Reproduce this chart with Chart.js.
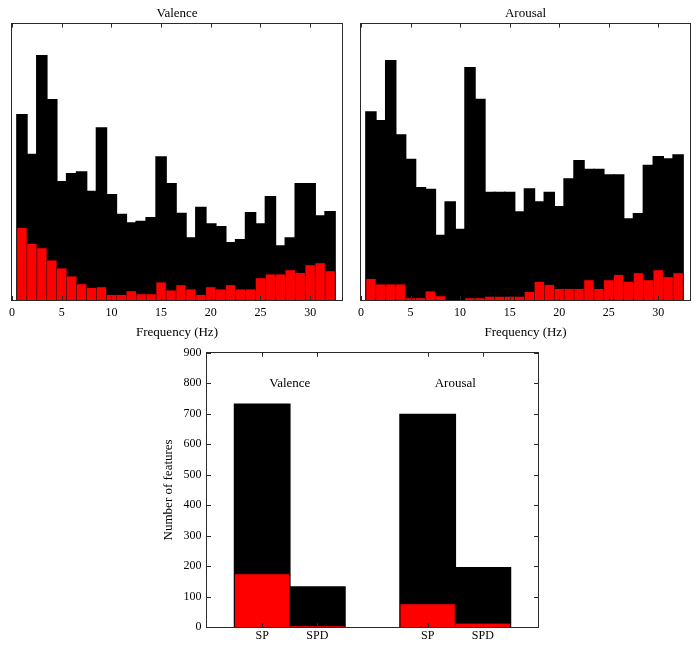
<!DOCTYPE html>
<html><head><meta charset="utf-8">
<script src="https://cdn.jsdelivr.net/npm/chart.js@4.4.0/dist/chart.umd.min.js"></script>
<style>
html,body{margin:0;padding:0;background:#fff;}
#wrap{position:relative;width:699px;height:650px;overflow:hidden;}
.c{position:absolute;}
</style></head><body>
<div id="wrap">
<div class="c" style="left:0;top:0;width:350px;height:340px"><canvas id="cv"></canvas></div>
<div class="c" style="left:350px;top:0;width:349px;height:340px"><canvas id="ca"></canvas></div>
<div class="c" style="left:150px;top:340px;width:400px;height:310px"><canvas id="cb"></canvas></div>
</div>
<script>
// ---- data ----
const freqs = [1,2,3,4,5,6,7,8,9,10,11,12,13,14,15,16,17,18,19,20,21,22,23,24,25,26,27,28,29,30,31,32];
const valenceAll = [39.7,31.2,52.3,42.9,25.4,27.1,27.5,23.3,36.9,22.6,18.4,16.6,16.9,17.7,30.7,25.0,18.6,13.4,19.9,16.4,15.8,12.4,13.0,18.8,16.4,22.2,11.7,13.4,25.0,25.0,18.1,19.0];
const valenceSelected = [15.4,12.0,11.1,8.5,6.8,5.1,3.4,2.6,2.8,1.1,1.1,1.9,1.3,1.3,3.8,2.1,3.2,2.3,1.1,2.8,2.3,3.2,2.3,2.3,4.7,5.5,5.5,6.4,5.8,7.5,7.9,6.2];
const arousalAll = [32.1,30.6,40.8,28.2,24.0,19.2,18.9,11.1,16.8,12.1,39.6,34.2,18.4,18.4,18.4,15.1,19.0,16.8,18.4,16.0,20.7,23.8,22.3,22.3,21.4,21.4,13.9,14.8,23.0,24.5,24.1,24.8];
const arousalSelected = [3.6,2.7,2.7,2.7,0.34,0.34,1.5,0.7,0,0,0.34,0.34,0.6,0.6,0.6,0.6,1.4,3.1,2.6,1.9,1.9,1.9,3.4,1.9,3.4,4.3,3.1,4.6,3.4,5.1,3.9,4.6];
const freqTicks = [0,5,10,15,20,25,30];

const featureTypes = ['SP','SPD','SP','SPD'];
const featurePositions = [1,2,4,5];
const totalFeatures = [733,134,700,197];
const selectedFeatures = [175,2,76,12];
const groupLabels = ['Valence','Arousal'];
const groupCenters = [1.5,4.5];
const groupLabelValue = 800;
const countTicks = [0,100,200,300,400,500,600,700,800,900];

// ---- styling ----
const F = 'Liberation Serif';
const RED = '#ff0000', BLACK = '#000000';
Chart.defaults.font.family = F;
Chart.defaults.color = '#000';

const framePlugin = {
  id: 'frame',
  afterDatasetsDraw(chart, args, opts) {
    const ctx = chart.ctx;
    const {left, right, top, bottom} = chart.chartArea;
    const xs = chart.scales.x, ys = chart.scales.y;
    const L = 4;
    ctx.save();
    ctx.strokeStyle = '#2a2a2a';
    ctx.lineWidth = 1;
    ctx.beginPath();
    xs.ticks.forEach(t => {
      const px = Math.round(xs.getPixelForValue(t.value)) + 0.5;
      ctx.moveTo(px, top); ctx.lineTo(px, top + L);
      ctx.moveTo(px, bottom); ctx.lineTo(px, bottom - L);
    });
    if (opts.yTicks) {
      ys.ticks.forEach(t => {
        const py = Math.round(ys.getPixelForValue(t.value)) + 0.5;
        ctx.moveTo(left, py); ctx.lineTo(left + L, py);
        ctx.moveTo(right, py); ctx.lineTo(right - L, py);
      });
    }
    ctx.stroke();
    ctx.strokeRect(Math.round(left) - 0.5, Math.round(top) - 0.5, Math.round(right - left) + 1, Math.round(bottom - top) + 1);
    if (opts.labels) {
      ctx.fillStyle = '#000';
      ctx.font = '13px "' + F + '"';
      ctx.textAlign = 'center';
      ctx.textBaseline = 'middle';
      opts.labels.forEach((txt, i) => {
        ctx.fillText(txt, xs.getPixelForValue(opts.labelX[i]), ys.getPixelForValue(opts.labelY));
      });
    }
    ctx.restore();
  }
};

function histChart(id, title, all, sel, ymax, padL, padR) {
  return new Chart(document.getElementById(id), {
    type: 'bar',
    data: {
      datasets: [
        { data: freqs.map((f, i) => ({x: f, y: sel[i]})), backgroundColor: RED, borderColor: '#300000', borderWidth: 0.6, borderSkipped: 'bottom', barPercentage: 1 },
        { data: freqs.map((f, i) => ({x: f, y: all[i]})), backgroundColor: BLACK, borderColor: BLACK, borderWidth: 0, barPercentage: 1.16, inflateAmount: 0 }
      ]
    },
    options: {
      responsive: true, maintainAspectRatio: false, animation: false,
      layout: { padding: { left: padL, right: padR, top: 0, bottom: 0 } },
      datasets: { bar: { grouped: false, categoryPercentage: 1 } },
      plugins: {
        legend: { display: false }, tooltip: { enabled: false },
        title: { display: true, text: title, color: '#000', font: { family: F, size: 13, weight: 'normal' }, padding: { top: 6, bottom: 2 } },
        frame: { yTicks: false }
      },
      scales: {
        x: {
          type: 'linear', min: 0, max: 33.2, offset: false,
          afterBuildTicks: s => { s.ticks = freqTicks.map(v => ({value: v})); },
          grid: { display: false, drawTicks: false }, border: { display: false },
          ticks: { font: { family: F, size: 12 }, color: '#000', padding: 6, maxRotation: 0, autoSkip: false },
          title: { display: true, text: 'Frequency (Hz)', color: '#000', font: { family: F, size: 13 }, padding: { top: 0, bottom: 0 } },
          afterFit: s => { s.height = 40; }
        },
        y: { display: false, min: 0, max: ymax }
      }
    },
    plugins: [framePlugin]
  });
}

histChart('cv', 'Valence', valenceAll, valenceSelected, 59, 12, 8);
histChart('ca', 'Arousal', arousalAll, arousalSelected, 47, 11, 9);

new Chart(document.getElementById('cb'), {
  type: 'bar',
  data: {
    datasets: [
      { data: featurePositions.map((p, i) => ({x: p, y: selectedFeatures[i]})), backgroundColor: RED, borderColor: '#300000', borderWidth: 0.8, borderSkipped: 'bottom', barPercentage: 1 },
      { data: featurePositions.map((p, i) => ({x: p, y: totalFeatures[i]})), backgroundColor: BLACK, borderColor: BLACK, borderWidth: 0, barPercentage: 1.03, inflateAmount: 0 }
    ]
  },
  options: {
    responsive: true, maintainAspectRatio: false, animation: false,
    layout: { padding: { left: 0, right: 12, top: 10, bottom: 0 } },
    datasets: { bar: { grouped: false, categoryPercentage: 1 } },
    plugins: {
      legend: { display: false }, tooltip: { enabled: false },
      frame: { yTicks: true, labels: groupLabels, labelX: groupCenters, labelY: groupLabelValue }
    },
    scales: {
      x: {
        type: 'linear', min: 0, max: 6, offset: false,
        afterBuildTicks: s => { s.ticks = featurePositions.map(v => ({value: v})); },
        grid: { display: false, drawTicks: false }, border: { display: false },
        ticks: { font: { family: F, size: 12 }, color: '#000', padding: 2, maxRotation: 0, autoSkip: false,
                 callback: v => featureTypes[featurePositions.indexOf(v)] },
        afterFit: s => { s.height = 23; }
      },
      y: {
        min: 0, max: 900,
        afterBuildTicks: s => { s.ticks = countTicks.map(v => ({value: v})); },
        grid: { display: false, drawTicks: false }, border: { display: false },
        ticks: { font: { family: F, size: 12 }, color: '#000', padding: 5.5 },
        title: { display: true, text: 'Number of features', color: '#000', font: { family: F, size: 13 }, padding: { top: 10.5, bottom: 0 } },
        afterFit: s => { s.width = 57; }
      }
    }
  },
  plugins: [framePlugin]
});
</script>
</body></html>
